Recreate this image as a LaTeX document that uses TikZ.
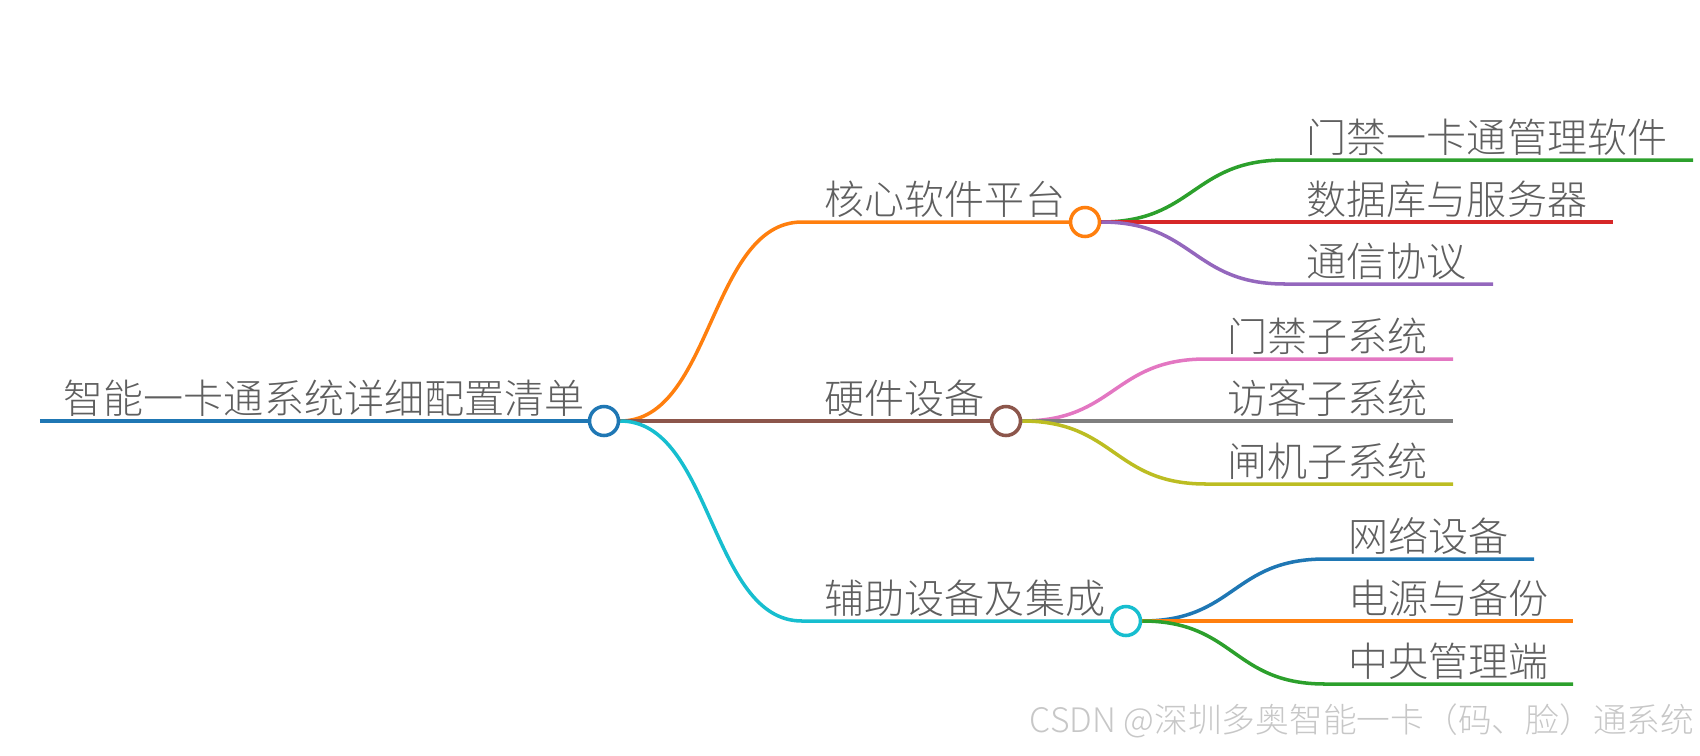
\documentclass[tikz,border=0pt]{standalone}
\usepackage{fontspec}
\setmainfont{Noto Sans CJK SC Light}
\definecolor{tabblue}{HTML}{1F77B4}
\definecolor{taborange}{HTML}{FF7F0E}
\definecolor{tabgreen}{HTML}{2CA02C}
\definecolor{tabred}{HTML}{D62728}
\definecolor{tabpurple}{HTML}{9467BD}
\definecolor{tabbrown}{HTML}{8C564B}
\definecolor{tabpink}{HTML}{E377C2}
\definecolor{tabgray}{HTML}{7F7F7F}
\definecolor{tabolive}{HTML}{BCBD22}
\definecolor{tabcyan}{HTML}{17BECF}
\definecolor{textgray}{RGB}{95,95,95}
\tikzset{
  knot/.style={circle, draw, fill=white, line width=1pt, minimum size=0.29cm, inner sep=0pt},
  branch/.style={line width=1pt},
  leaf/.style={anchor=base west, inner sep=0pt, text=textgray, font=\fontsize{11.4}{13}\selectfont},
}
\begin{document}
\begin{tikzpicture}
	\useasboundingbox (0,0) rectangle (17,7.55);

	% --- Racine ---
	\coordinate (r-start) at (0.40,3.34);
	\node[knot, draw=tabblue] (root) at (6.04,3.34) {};
	\node[leaf] (t-root) at (0.63,3.42) {智能一卡通系统详细配置清单};
	\draw[branch, tabblue] (r-start) -- (root.west);

	% --- Branches ---
	\node[knot, draw=taborange] (soft) at (10.85,5.33) {};
	\node[knot, draw=tabbrown] (hard) at (10.06,3.34) {};
	\node[knot, draw=tabcyan] (aux) at (11.26,1.34) {};
	\coordinate (soft-in) at (8.02,5.33);
	\coordinate (aux-in) at (8.02,1.34);
	\draw[branch, taborange] (root.east) .. controls +(0.92,0) and +(-0.92,0) .. (soft-in) -- (soft.west);
	\draw[branch, tabbrown] (root.east) -- (hard.west);
	\draw[branch, tabcyan] (root.east) .. controls +(0.92,0) and +(-0.92,0) .. (aux-in) -- (aux.west);
	\node[leaf] (t-soft) at (8.24,5.41) {核心软件平台};
	\node[leaf] (t-hard) at (8.24,3.42) {硬件设备};
	\node[leaf] (t-aux) at (8.24,1.42) {辅助设备及集成};

	% --- Logiciel ---
	\coordinate (s1-in) at (12.85,5.95);
	\coordinate (s1-end) at (16.93,5.95);
	\coordinate (s2-end) at (16.13,5.33);
	\coordinate (s3-in) at (12.85,4.71);
	\coordinate (s3-end) at (14.93,4.71);
	\draw[branch, tabgreen] (soft.east) .. controls +(0.93,0) and +(-0.93,0) .. (s1-in) -- (s1-end);
	\draw[branch, tabred] (soft.east) -- (s2-end);
	\draw[branch, tabpurple] (soft.east) .. controls +(0.93,0) and +(-0.93,0) .. (s3-in) -- (s3-end);
	\node[leaf] (t-s1) at (13.06,6.03) {门禁一卡通管理软件};
	\node[leaf] (t-s2) at (13.06,5.41) {数据库与服务器};
	\node[leaf] (t-s3) at (13.06,4.79) {通信协议};

	% --- Materiel ---
	\coordinate (h1-in) at (12.06,3.96);
	\coordinate (h1-end) at (14.53,3.96);
	\coordinate (h2-end) at (14.53,3.34);
	\coordinate (h3-in) at (12.06,2.71);
	\coordinate (h3-end) at (14.53,2.71);
	\draw[branch, tabpink] (hard.east) .. controls +(0.93,0) and +(-0.93,0) .. (h1-in) -- (h1-end);
	\draw[branch, tabgray] (hard.east) -- (h2-end);
	\draw[branch, tabolive] (hard.east) .. controls +(0.93,0) and +(-0.93,0) .. (h3-in) -- (h3-end);
	\node[leaf] (t-h1) at (12.27,4.04) {门禁子系统};
	\node[leaf] (t-h2) at (12.27,3.42) {访客子系统};
	\node[leaf] (t-h3) at (12.27,2.79) {闸机子系统};

	% --- Auxiliaire ---
	\coordinate (a1-in) at (13.25,1.96);
	\coordinate (a1-end) at (15.34,1.96);
	\coordinate (a2-end) at (15.73,1.34);
	\coordinate (a3-in) at (13.25,0.71);
	\coordinate (a3-end) at (15.73,0.71);
	\draw[branch, tabblue] (aux.east) .. controls +(0.93,0) and +(-0.93,0) .. (a1-in) -- (a1-end);
	\draw[branch, taborange] (aux.east) -- (a2-end);
	\draw[branch, tabgreen] (aux.east) .. controls +(0.93,0) and +(-0.93,0) .. (a3-in) -- (a3-end);
	\node[leaf] (t-a1) at (13.48,2.04) {网络设备};
	\node[leaf] (t-a2) at (13.48,1.42) {电源与备份};
	\node[leaf] (t-a3) at (13.48,0.79) {中央管理端};

	% --- Filigrane ---
	\node[anchor=east, inner sep=0pt, text=black!22, font=\fontsize{9.6}{11}\selectfont] (mark) at (16.95,0.34) {CSDN @深圳多奥智能一卡（码、脸）通系统};
\end{tikzpicture}
\end{document}
